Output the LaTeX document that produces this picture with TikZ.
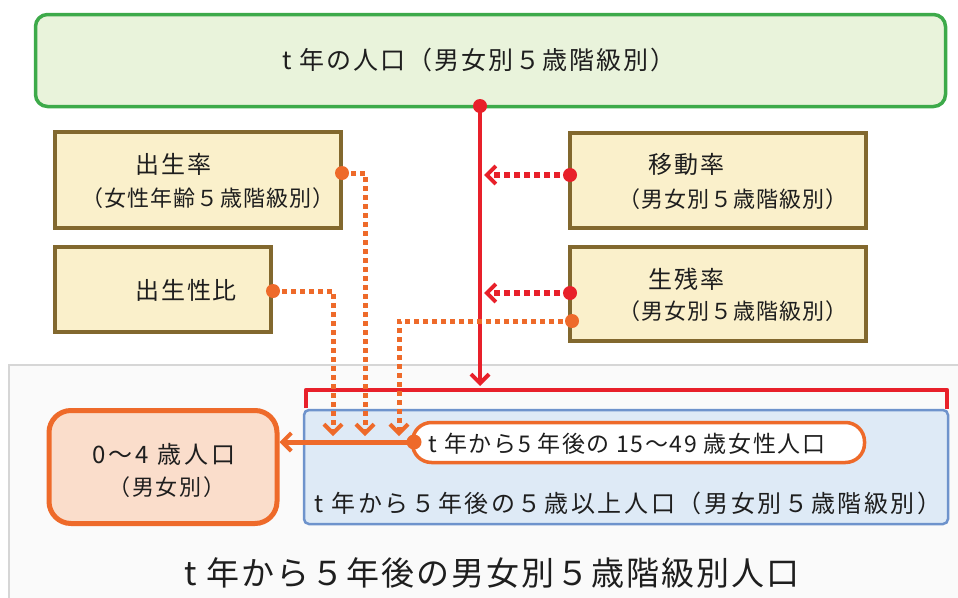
\documentclass[tikz,border=0pt]{standalone}
\usepackage{fontspec}
\setmainfont{Noto Sans CJK JP}
\usetikzlibrary{arrows.meta}
\definecolor{gborder}{HTML}{3DAA4A}
\definecolor{gfill}{HTML}{E9F3DB}
\definecolor{yfill}{HTML}{FAF0CB}
\definecolor{yborder}{HTML}{82682E}
\definecolor{rline}{HTML}{E8202A}
\definecolor{oline}{HTML}{EE6A2A}
\definecolor{ofill}{HTML}{FADDCB}
\definecolor{bfill}{HTML}{DEEAF6}
\definecolor{bborder}{HTML}{6E93CC}
\definecolor{txt}{HTML}{1E1E1E}
\definecolor{frame}{HTML}{D6D6D6}
\newcommand{\fsz}[3]{\fontsize{#1}{#2}\selectfont\addfontfeatures{LetterSpace=#3}}
\tikzset{
  ybox/.style={draw=yborder, fill=yfill, line width=3.5pt, inner sep=0pt},
  lbl/.style={text=txt, inner sep=0pt, font=\fsz{22}{26}{5}},
  ttl/.style={text=txt, inner sep=0pt, font=\fsz{24}{28}{8}},
  rdot/.style={circle, fill=rline, inner sep=0pt, minimum size=14pt},
  odot/.style={circle, fill=oline, inner sep=0pt, minimum size=14pt},
  rdotted/.style={draw=rline, line width=5.5pt, dash pattern=on 6pt off 4pt},
  odotted/.style={draw=oline, line width=5pt, dash pattern=on 5pt off 4pt},
  obarb/.style={-{Straight Barb[length=9pt,width=18pt,line width=4pt]}},
  rbarb/.style={-{Straight Barb[length=9pt,width=18pt,line width=4pt]}},
}
\begin{document}
\begin{tikzpicture}[x=1pt,y=-1pt]
\useasboundingbox (0,0) rectangle (958,597);
% bottom frame
\node[draw=frame, fill=white!98!black, line width=1.5pt, inner sep=0pt, minimum width=960pt, minimum height=240pt, anchor=north west] (frame) at (8,364) {};
% top box
\node[draw=gborder, fill=gfill, line width=3.5pt, rounded corners=12pt, minimum width=910pt, minimum height=92pt, inner sep=0pt] (top) at (490.5,60.5) {};
\node[text=txt, inner sep=0pt, font=\fsz{25}{30}{8}] (toptxt) at (479,60) {t 年の人口（男女別５歳階級別）};
% yellow boxes
\node[ybox, minimum width=286pt, minimum height=96pt] (birth) at (198,180) {};
\node[ttl, anchor=west] (birthA) at (135,164) {出生率};
\node[lbl] (birthB) at (208,198) {（女性年齢５歳階級別）};
\node[ybox, minimum width=216pt, minimum height=85pt] (ratio) at (163,289.5) {};
\node[ttl, anchor=west] (ratioA) at (135,290) {出生性比};
\node[ybox, minimum width=296pt, minimum height=95pt] (move) at (718,180.5) {};
\node[ttl, anchor=west] (moveA) at (648,164) {移動率};
\node[lbl] (moveB) at (733,199) {（男女別５歳階級別）};
\node[ybox, minimum width=296pt, minimum height=94pt] (surv) at (718,294) {};
\node[ttl, anchor=west] (survA) at (648,279) {生残率};
\node[lbl] (survB) at (733,311) {（男女別５歳階級別）};
% blue box
\node[draw=bborder, fill=bfill, line width=2.5pt, rounded corners=5pt, minimum width=644pt, minimum height=114pt, inner sep=0pt] (blue) at (626,467) {};
\node[text=txt, inner sep=0pt, font=\fsz{24}{28}{11}] (bluetxt) at (628,503) {t 年から５年後の５歳以上人口（男女別５歳階級別）};
% pill
\node[draw=oline, fill=white, line width=3.5pt, rounded corners=19pt, minimum width=452pt, minimum height=40pt, inner sep=0pt] (pill) at (638.5,442.5) {};
\node[text=txt, inner sep=0pt, font=\fsz{23}{27}{7}] (pilltxt) at (627,444) {t 年から5 年後の 15〜49 歳女性人口};
% 0-4 box
\node[draw=oline, fill=ofill, line width=5pt, rounded corners=22pt, minimum width=228pt, minimum height=113pt, inner sep=0pt] (young) at (163,467) {};
\node[text=txt, inner sep=0pt, font=\fsz{24}{28}{12}] (youngA) at (164,454) {0〜4 歳人口};
\node[text=txt, inner sep=0pt, font=\fsz{22}{26}{7}] (youngB) at (167,487) {（男女別）};
% bottom title
\node[text=txt, inner sep=0pt, font=\fsz{33}{38}{6}] (title) at (492,573) {t 年から５年後の男女別５歳階級別人口};
% red bracket
\coordinate (brL) at (306,408);
\coordinate (brR) at (947,409);
\draw[rline, line width=4.5pt, line join=round] (brL) -- (306,390) -- (947,390) -- (brR);
% red main connector
\coordinate (rmain) at (480,106);
\coordinate (rend) at (480,386);
\draw[rline, line width=4pt, rbarb] (rmain) -- (rend);
\node[rdot] (rmaindot) at (rmain) {};
% move & survival red dotted
\coordinate (mvS) at (570,175);
\coordinate (mvE) at (484,175);
\draw[rdotted, rbarb] (mvS) -- (mvE);
\node[rdot] (mvdot) at (mvS) {};
\coordinate (svS) at (570,293);
\coordinate (svE) at (484,293);
\draw[rdotted, rbarb] (svS) -- (svE);
\node[rdot] (svdot) at (svS) {};
% orange dotted
\coordinate (bS) at (342,173);
\coordinate (bE) at (365,436);
\draw[odotted, obarb] (bS) -- (365,173) -- (bE);
\node[odot] (bdot) at (bS) {};
\coordinate (rS) at (273,291);
\coordinate (rE) at (333,436);
\draw[odotted, obarb] (rS) -- (333,291) -- (rE);
\node[odot] (rdot2) at (rS) {};
\coordinate (sS) at (572,321);
\coordinate (sE) at (399,436);
\draw[odotted, obarb] (sS) -- (399,321) -- (sE);
\node[odot] (sdot) at (sS) {};
% orange line to 0-4
\coordinate (oS) at (414,442);
\draw[oline, line width=5pt, obarb] (oS) -- (young.east |- oS);
\node[odot, minimum size=15pt] (odot1) at (oS) {};
\end{tikzpicture}
\end{document}
